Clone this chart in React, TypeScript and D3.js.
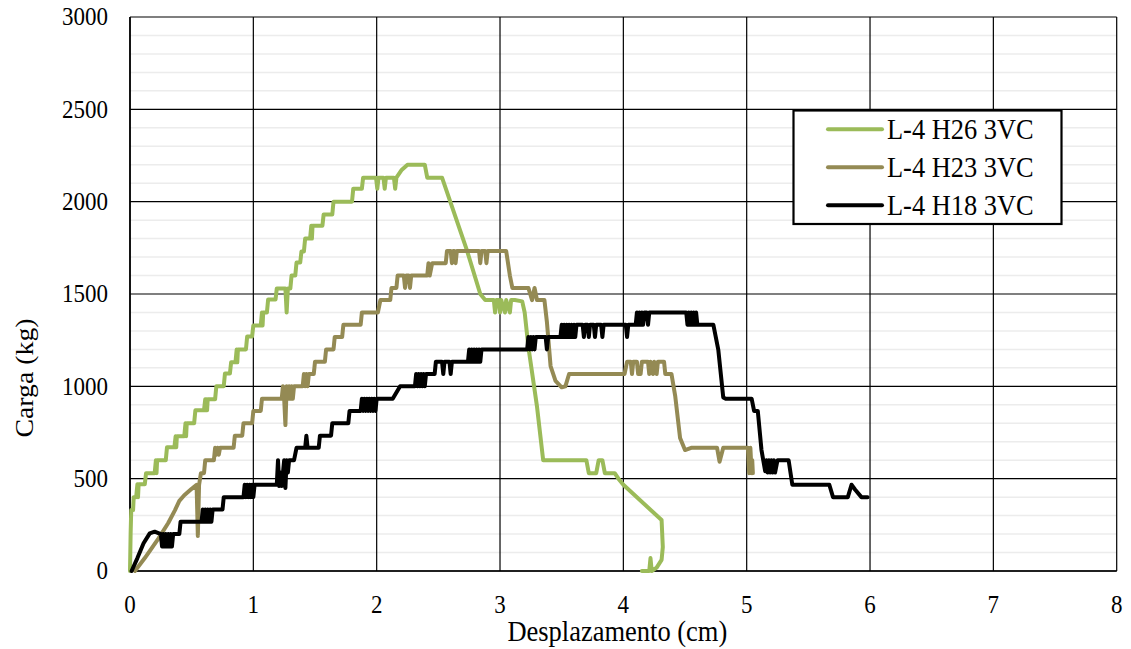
import React from "react";
import * as d3 from "d3";

type P = [number, number];

const seriesNames = ["L-4 H26 3VC", "L-4 H23 3VC", "L-4 H18 3VC"];
const seriesColors = ["#9BBB59", "#948A54", "#000000"];
const xTicks = [0, 1, 2, 3, 4, 5, 6, 7, 8];
const yTicks = [0, 500, 1000, 1500, 2000, 2500, 3000];
const yMinor = [100,200,300,400,600,700,800,900,1100,1200,1300,1400,1600,1700,1800,1900,2100,2200,2300,2400,2600,2700,2800,2900];

const greenH26: P[] = [
[0,0],[0.005,200],[0.01,330],[0.025,330],[0.03,400],[0.05,400],[0.06,470],[0.065,400],[0.07,470],[0.12,470],[0.13,530],[0.2,530],[0.21,600],[0.215,530],[0.22,600],[0.29,600],[0.3,670],[0.36,670],[0.37,730],[0.375,670],[0.38,730],[0.44,730],[0.45,800],[0.455,730],[0.46,800],[0.52,800],[0.53,870],[0.6,870],[0.61,930],[0.615,870],[0.62,930],[0.625,870],[0.63,930],[0.69,930],[0.7,1000],[0.76,1000],[0.77,1070],[0.81,1070],[0.82,1130],[0.855,1130],[0.865,1200],[0.87,1130],[0.875,1200],[0.94,1200],[0.95,1270],[0.99,1270],[1.0,1330],[1.06,1330],[1.07,1400],[1.075,1330],[1.08,1400],[1.11,1400],[1.12,1470],[1.18,1470],[1.19,1530],[1.26,1530],[1.27,1400],[1.28,1530],[1.3,1530],[1.31,1600],[1.34,1600],[1.35,1670],[1.38,1670],[1.39,1730],[1.41,1730],[1.42,1800],[1.46,1800],[1.47,1870],[1.475,1800],[1.48,1870],[1.56,1870],[1.57,1930],[1.64,1930],[1.65,2000],[1.8,2000],[1.81,2070],[1.88,2070],[1.89,2130],[1.995,2130],[2.005,2070],[2.015,2130],[2.055,2130],[2.065,2070],[2.075,2130],[2.14,2130],[2.15,2070],[2.16,2130],[2.2,2170],[2.25,2200],[2.39,2200],[2.41,2130],[2.53,2130],[2.73,1740],[2.84,1500],[2.88,1467],[2.95,1467],[2.96,1400],[2.97,1467],[2.99,1467],[3.0,1400],[3.01,1467],[3.04,1400],[3.05,1467],[3.08,1400],[3.09,1467],[3.12,1467],[3.18,1460],[3.2,1400],[3.23,1213],[3.3,890],[3.35,600],[3.7,600],[3.72,530],[3.78,530],[3.8,600],[3.83,600],[3.85,530],[3.93,530],[3.96,500],[4.0,467],[4.31,276],[4.32,130],[4.31,60],[4.27,18],[4.23,0],[4.22,70],[4.21,0],[4.15,0]
];

const oliveH23: P[] = [
[0.04,0],[0.12,70],[0.23,175],[0.31,260],[0.365,330],[0.4,380],[0.44,410],[0.5,445],[0.54,466],[0.55,190],[0.56,466],[0.575,530],[0.6,530],[0.61,600],[0.68,600],[0.69,667],[0.7,630],[0.71,667],[0.72,630],[0.73,667],[0.84,667],[0.85,733],[0.91,733],[0.92,800],[0.99,800],[1.0,867],[1.06,867],[1.07,933],[1.23,933],[1.24,1000],[1.25,933],[1.26,790],[1.27,1000],[1.28,933],[1.29,1000],[1.3,933],[1.31,1000],[1.32,933],[1.33,1000],[1.4,1000],[1.41,1067],[1.42,1000],[1.43,1067],[1.44,1000],[1.45,1067],[1.49,1067],[1.5,1133],[1.58,1133],[1.59,1200],[1.65,1200],[1.66,1267],[1.72,1267],[1.73,1333],[1.87,1333],[1.88,1400],[2.01,1400],[2.03,1467],[2.11,1467],[2.12,1533],[2.16,1533],[2.17,1600],[2.22,1600],[2.23,1533],[2.24,1600],[2.26,1600],[2.27,1533],[2.28,1600],[2.41,1600],[2.42,1667],[2.43,1600],[2.45,1667],[2.56,1667],[2.57,1733],[2.6,1733],[2.61,1667],[2.62,1733],[2.63,1733],[2.64,1667],[2.65,1733],[2.83,1733],[2.84,1667],[2.85,1733],[2.88,1733],[2.89,1667],[2.9,1733],[3.05,1733],[3.08,1600],[3.1,1533],[3.23,1533],[3.26,1467],[3.28,1533],[3.3,1467],[3.36,1467],[3.38,1350],[3.41,1110],[3.45,1030],[3.5,995],[3.53,1000],[3.56,1067],[4.01,1067],[4.03,1133],[4.06,1133],[4.07,1067],[4.08,1133],[4.11,1133],[4.12,1067],[4.14,1067],[4.15,1133],[4.2,1133],[4.21,1067],[4.22,1133],[4.24,1067],[4.25,1133],[4.27,1067],[4.28,1133],[4.33,1133],[4.34,1067],[4.39,1067],[4.42,950],[4.46,720],[4.5,655],[4.55,667],[4.76,667],[4.78,592],[4.81,667],[5.01,667],[5.02,530],[5.03,667],[5.04,530],[5.045,600],[5.05,530]
];

const blackH18: P[] = [
[0.013,0],[0.06,70],[0.11,150],[0.16,204],[0.2,213],[0.25,200],[0.26,133],[0.27,200],[0.28,133],[0.29,200],[0.3,133],[0.31,200],[0.32,133],[0.33,200],[0.34,133],[0.35,200],[0.4,200],[0.41,267],[0.58,267],[0.59,333],[0.6,267],[0.61,333],[0.62,267],[0.63,333],[0.64,267],[0.65,333],[0.66,267],[0.67,333],[0.75,333],[0.76,400],[0.92,400],[0.93,467],[0.94,400],[0.95,467],[0.96,400],[0.97,467],[0.98,400],[0.99,467],[1.0,400],[1.01,467],[1.19,467],[1.2,600],[1.21,460],[1.22,533],[1.23,460],[1.25,600],[1.26,450],[1.27,600],[1.28,533],[1.29,600],[1.33,600],[1.35,667],[1.42,667],[1.43,733],[1.44,667],[1.53,667],[1.54,733],[1.63,733],[1.64,800],[1.77,800],[1.78,867],[1.87,867],[1.88,933],[1.89,867],[1.9,933],[1.91,867],[1.92,933],[1.93,867],[1.94,933],[1.95,867],[1.96,933],[1.97,867],[1.98,933],[1.99,867],[2.0,933],[2.13,933],[2.19,1000],[2.31,1000],[2.32,1067],[2.33,1000],[2.34,1067],[2.35,1000],[2.36,1067],[2.37,1000],[2.38,1067],[2.39,1000],[2.4,1067],[2.47,1067],[2.48,1133],[2.53,1133],[2.54,1067],[2.55,1133],[2.59,1133],[2.6,1067],[2.61,1133],[2.74,1133],[2.75,1200],[2.76,1133],[2.77,1200],[2.78,1133],[2.79,1200],[2.8,1133],[2.81,1200],[2.82,1133],[2.83,1200],[2.84,1133],[2.85,1200],[3.22,1200],[3.23,1267],[3.24,1200],[3.25,1267],[3.26,1200],[3.27,1267],[3.28,1200],[3.29,1267],[3.37,1267],[3.38,1200],[3.39,1267],[3.49,1267],[3.5,1333],[3.51,1267],[3.52,1333],[3.53,1267],[3.54,1333],[3.55,1267],[3.56,1333],[3.57,1267],[3.58,1333],[3.59,1267],[3.6,1333],[3.61,1267],[3.62,1333],[3.67,1333],[3.68,1267],[3.69,1333],[3.71,1333],[3.72,1267],[3.73,1333],[3.76,1333],[3.77,1267],[3.78,1333],[3.82,1333],[3.83,1267],[3.84,1333],[4.02,1333],[4.03,1267],[4.04,1333],[4.1,1333],[4.11,1400],[4.12,1333],[4.13,1400],[4.14,1333],[4.15,1400],[4.16,1333],[4.17,1400],[4.19,1400],[4.2,1333],[4.21,1400],[4.51,1400],[4.52,1333],[4.53,1400],[4.54,1333],[4.55,1400],[4.56,1333],[4.57,1400],[4.58,1333],[4.59,1400],[4.6,1333],[4.73,1333],[4.77,1197],[4.81,940],[4.83,933],[5.04,933],[5.06,867],[5.09,867],[5.12,655],[5.15,540],[5.16,600],[5.17,533],[5.18,600],[5.19,533],[5.2,600],[5.21,533],[5.22,600],[5.23,533],[5.25,600],[5.34,600],[5.37,467],[5.67,467],[5.7,400],[5.82,400],[5.85,467],[5.88,440],[5.93,400],[5.98,400]
];

const allSeries = [greenH26, oliveH23, blackH18];

const W = 1131, H = 649;
const PL = 130, PR = 1116.7, PT = 17, PB = 571;
const SY = 1.09;
const FONT = "Liberation Serif, Times New Roman, Times, DejaVu Serif, serif";

function T({ x, y, size, anchor = "start", rotate = 0, children }: any) {
  return (
    <text
      transform={`translate(${x},${y}) scale(1,${SY}) rotate(${rotate})`}
      style={{ fontFamily: FONT }}
      fontSize={size}
      textAnchor={anchor}
      fill="#000"
    >
      {children}
    </text>
  );
}

export default function App() {
  const x = d3.scaleLinear().domain([0, 8]).range([PL, PR]);
  const y = d3.scaleLinear().domain([0, 3000]).range([PB, PT]);
  const line = d3.line<P>().x((d) => x(d[0])).y((d) => y(d[1])).curve(d3.curveLinear);

  return (
    <svg width={W} height={H} style={{ position: "absolute", left: 0, top: 0, background: "#fff" }}>
      <rect x={0} y={0} width={W} height={H} fill="#fff" />
      {yMinor.map((v) => (
        <line key={"m" + v} x1={PL} x2={PR} y1={y(v)} y2={y(v)} stroke="#ececec" strokeWidth={1.5} />
      ))}
      {yTicks.map((v) => (
        <line key={"h" + v} x1={PL} x2={PR} y1={y(v)} y2={y(v)} stroke="#000" strokeWidth={1.2} />
      ))}
      {xTicks.map((v) => (
        <line key={"v" + v} x1={x(v)} x2={x(v)} y1={PT} y2={PB} stroke="#000" strokeWidth={1.2} />
      ))}
      <line x1={PL} x2={PR} y1={PB} y2={PB} stroke="#000" strokeWidth={1.6} />
      <line x1={PL} x2={PL} y1={PT} y2={PB} stroke="#000" strokeWidth={1.6} />

      {allSeries.map((s, i) => (
        <path
          key={"s" + i}
          d={line(s) || ""}
          fill="none"
          stroke={seriesColors[i]}
          strokeWidth={4}
          strokeLinejoin="round"
          strokeLinecap="round"
        />
      ))}

      {yTicks.map((v) => (
        <T key={"yl" + v} x={108} y={y(v) + 8.3} size={23} anchor="end">{v}</T>
      ))}
      {xTicks.map((v) => (
        <T key={"xl" + v} x={x(v)} y={613} size={23} anchor="middle">{v}</T>
      ))}
      <T x={x(4) - 6} y={641} size={26.5} anchor="middle">Desplazamento (cm)</T>
      <T x={33} y={378} size={25.5} anchor="middle" rotate={-90}>Carga (kg)</T>

      <rect x={793.5} y={110.5} width={268} height={113.5} fill="#fff" stroke="#000" strokeWidth={2.2} />
      {seriesNames.map((n, i) => {
        const ly = 129.3 + i * 38;
        return (
          <g key={"lg" + i}>
            <line x1={828} x2={882} y1={ly} y2={ly} stroke={seriesColors[i]} strokeWidth={4} strokeLinecap="round" />
            <T x={887} y={ly + 9.5} size={26.4}>{n}</T>
          </g>
        );
      })}
    </svg>
  );
}
